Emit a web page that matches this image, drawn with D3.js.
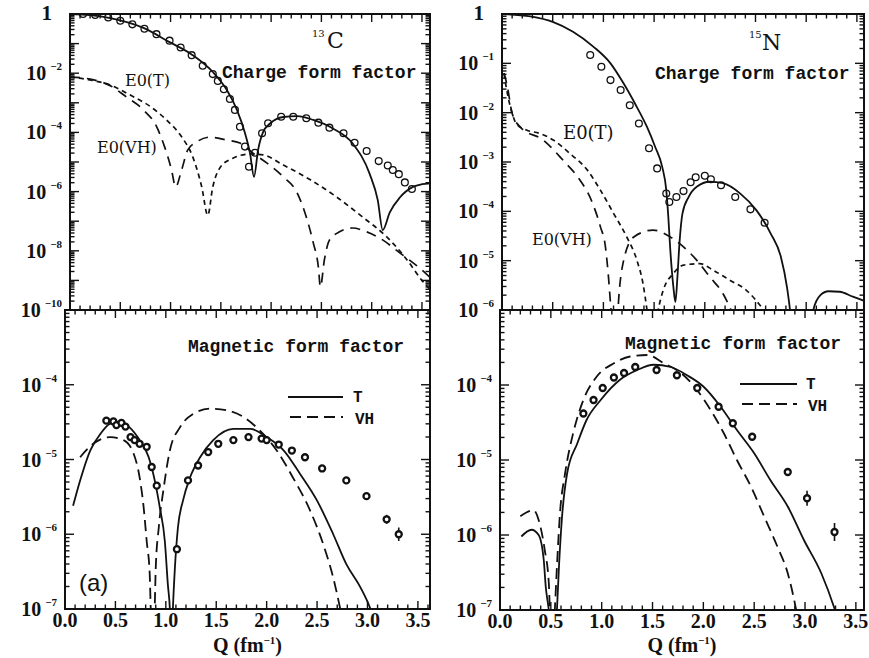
<!DOCTYPE html>
<html><head><meta charset="utf-8">
<script src="https://cdn.jsdelivr.net/npm/d3@7/dist/d3.min.js"></script>
<style>body{margin:0;background:#fff} svg{display:block}</style>
</head><body><svg id="c" width="869" height="658"></svg>
<script>
// ---------- DATA (Q in fm^-1, value given as log10 of form factor) ----------
const xTickLabels = ["0.0","0.5","1.0","1.5","2.0","2.5","3.0","3.5"];
const tlYExponents = [0,-2,-4,-6,-8,-10];
const trYExponents = [0,-1,-2,-3,-4,-5,-6];
const bottomYExponents = [-4,-5,-6,-7];

// 13C charge form factor
const c13ChargeT = [[0,0],[0.2,-0.04],[0.4,-0.14],[0.73,-0.47],[0.99,-0.95],[1.22,-1.39],[1.42,-1.96],[1.56,-2.57],[1.66,-3.24],[1.74,-4.02],[1.79,-4.7],[1.83,-5.5],[1.87,-4.6],[1.92,-3.99],[1.99,-3.7],[2.12,-3.48],[2.26,-3.45],[2.42,-3.58],[2.61,-3.86],[2.81,-4.37],[2.98,-5.4],[3.06,-6.28],[3.11,-7.3],[3.18,-6.7],[3.28,-6.2],[3.41,-5.84],[3.5,-5.75],[3.58,-5.72]];
const c13ChargeE0T = [[0,-2.13],[0.2,-2.23],[0.4,-2.4],[0.6,-2.74],[0.8,-3.13],[0.96,-3.58],[1.11,-4.15],[1.22,-4.82],[1.31,-5.84],[1.37,-6.8],[1.42,-5.84],[1.49,-5.2],[1.62,-4.87],[1.79,-4.73],[1.92,-4.76],[2.12,-5.1],[2.39,-5.6],[2.65,-6.18],[2.91,-6.86],[3.15,-7.53],[3.35,-8.3],[3.5,-9.0],[3.58,-9.3]];
const c13ChargeE0VH = [[0,-2.13],[0.2,-2.2],[0.4,-2.42],[0.56,-2.8],[0.73,-3.24],[0.86,-3.8],[0.94,-4.48],[1.01,-5.27],[1.05,-5.84],[1.11,-5.27],[1.17,-4.6],[1.26,-4.32],[1.39,-4.16],[1.56,-4.26],[1.69,-4.36],[1.82,-4.7],[1.96,-5.04],[2.12,-5.5],[2.26,-6.05],[2.35,-6.86],[2.42,-7.74],[2.47,-8.55],[2.49,-9.22],[2.53,-8.3],[2.58,-7.64],[2.68,-7.36],[2.81,-7.23],[2.95,-7.36],[3.08,-7.57],[3.28,-8.07],[3.5,-8.65],[3.58,-8.9]];
const c13ChargeData = [[0.13,0],[0.25,-0.03],[0.38,-0.12],[0.5,-0.23],[0.62,-0.35],[0.74,-0.5],[0.86,-0.68],[0.99,-0.9],[1.1,-1.13],[1.21,-1.39],[1.32,-1.75],[1.42,-2.03],[1.47,-2.26],[1.53,-2.54],[1.59,-2.87],[1.64,-3.24],[1.69,-3.81],[1.74,-4.48],[1.78,-5.16],[1.84,-4.69],[1.91,-4.03],[1.97,-3.69],[2.1,-3.47],[2.22,-3.47],[2.35,-3.52],[2.47,-3.67],[2.58,-3.84],[2.72,-4.03],[2.83,-4.35],[2.95,-4.63],[3.07,-4.97],[3.16,-5.12],[3.21,-5.27],[3.27,-5.41],[3.33,-5.69],[3.4,-5.91]];

// 15N charge form factor
const n15ChargeT = [[0,0],[0.28,-0.05],[0.5,-0.16],[0.7,-0.36],[0.9,-0.66],[1.07,-1.0],[1.2,-1.41],[1.31,-1.81],[1.43,-2.29],[1.51,-2.69],[1.58,-3.1],[1.62,-3.57],[1.64,-4.11],[1.66,-4.79],[1.69,-5.53],[1.71,-5.84],[1.73,-5.33],[1.75,-4.65],[1.78,-4.04],[1.84,-3.71],[1.92,-3.5],[2.05,-3.4],[2.18,-3.43],[2.35,-3.64],[2.51,-3.98],[2.65,-4.45],[2.75,-4.92],[2.81,-5.53],[2.84,-6.0],[2.88,-7.0],[2.96,-7.6],[3.03,-7.0],[3.07,-6.0],[3.14,-5.7],[3.22,-5.62],[3.33,-5.63],[3.46,-5.73],[3.58,-5.82]];
const n15ChargeE0T = [[0.02,-1.2],[0.03,-1.34],[0.06,-1.68],[0.1,-2.01],[0.14,-2.22],[0.24,-2.35],[0.37,-2.42],[0.51,-2.56],[0.67,-2.83],[0.84,-3.16],[0.97,-3.57],[1.1,-4.04],[1.23,-4.52],[1.33,-4.99],[1.39,-5.46],[1.43,-6.0],[1.48,-6.8],[1.54,-6.0],[1.59,-5.6],[1.69,-5.26],[1.79,-5.09],[1.95,-5.06],[2.08,-5.19],[2.25,-5.4],[2.41,-5.6],[2.58,-6.0],[2.65,-6.2]];
const n15ChargeE0VH = [[0.02,-1.2],[0.05,-1.44],[0.1,-2.01],[0.18,-2.29],[0.41,-2.56],[0.6,-2.96],[0.77,-3.37],[0.88,-3.77],[0.97,-4.31],[1.02,-4.72],[1.05,-5.33],[1.07,-5.87],[1.1,-6.6],[1.13,-6.5],[1.15,-5.8],[1.2,-4.99],[1.3,-4.52],[1.49,-4.38],[1.66,-4.52],[1.79,-4.72],[1.92,-4.99],[2.05,-5.33],[2.18,-5.67],[2.23,-5.87],[2.3,-6.2]];
const n15ChargeData = [[0.87,-0.83],[0.98,-1.07],[1.07,-1.34],[1.17,-1.54],[1.26,-1.85],[1.35,-2.22],[1.45,-2.72],[1.53,-3.13],[1.62,-3.64],[1.65,-3.81],[1.72,-3.71],[1.79,-3.59],[1.86,-3.41],[1.91,-3.31],[2.0,-3.28],[2.06,-3.35],[2.16,-3.47],[2.3,-3.71],[2.45,-3.96],[2.59,-4.23]];

// 13C magnetic form factor
const c13MagT = [[0.08,-5.62],[0.15,-5.28],[0.25,-4.88],[0.35,-4.66],[0.45,-4.52],[0.55,-4.5],[0.64,-4.57],[0.74,-4.74],[0.83,-4.97],[0.89,-5.28],[0.94,-5.64],[0.99,-6.09],[1.02,-6.67],[1.04,-7.0],[1.055,-7.6],[1.07,-7.0],[1.09,-6.45],[1.12,-5.91],[1.17,-5.55],[1.24,-5.24],[1.34,-4.97],[1.47,-4.74],[1.67,-4.59],[1.84,-4.59],[2.0,-4.7],[2.17,-4.88],[2.33,-5.19],[2.5,-5.55],[2.66,-6.0],[2.79,-6.4],[2.93,-6.71],[3.03,-7.0],[3.08,-7.2]];
const c13MagVH = [[0.15,-4.97],[0.28,-4.79],[0.45,-4.7],[0.58,-4.74],[0.68,-4.92],[0.74,-5.24],[0.78,-5.64],[0.81,-6.09],[0.84,-6.53],[0.85,-6.98],[0.87,-7.5],[0.89,-6.98],[0.9,-6.45],[0.93,-5.91],[0.98,-5.37],[1.04,-4.88],[1.14,-4.57],[1.27,-4.39],[1.44,-4.32],[1.6,-4.34],[1.77,-4.43],[1.93,-4.61],[2.1,-4.88],[2.26,-5.24],[2.43,-5.68],[2.56,-6.13],[2.66,-6.58],[2.73,-7.0],[2.76,-7.2]];
const c13MagData = [[0.41,-4.48,0],[0.48,-4.49,0],[0.51,-4.54,0],[0.56,-4.51,0],[0.6,-4.56,0],[0.65,-4.7,0],[0.69,-4.74,0],[0.74,-4.79,0],[0.81,-4.83,0],[0.86,-5.1,0.05],[0.91,-5.35,0.05],[1.11,-6.2,0.05],[1.22,-5.28,0],[1.32,-5.08,0],[1.42,-4.9,0],[1.52,-4.79,0],[1.67,-4.74,0],[1.82,-4.7,0],[1.95,-4.72,0],[2.0,-4.74,0],[2.12,-4.8,0],[2.25,-4.88,0],[2.38,-4.97,0],[2.55,-5.12,0],[2.79,-5.28,0],[2.99,-5.49,0],[3.19,-5.8,0.06],[3.31,-6.0,0.09]];

// 15N magnetic form factor
const n15MagT = [[0.21,-6.02],[0.31,-5.93],[0.38,-6.0],[0.43,-6.33],[0.45,-6.69],[0.48,-7.0],[0.52,-7.6],[0.56,-7.0],[0.58,-6.42],[0.61,-5.76],[0.66,-5.18],[0.76,-4.78],[0.85,-4.47],[0.99,-4.2],[1.18,-3.93],[1.35,-3.8],[1.51,-3.73],[1.68,-3.76],[1.84,-3.87],[2.0,-4.02],[2.17,-4.29],[2.33,-4.6],[2.5,-4.91],[2.66,-5.27],[2.83,-5.62],[2.99,-6.07],[3.16,-6.51],[3.29,-6.98],[3.33,-7.15]];
const n15MagVH = [[0.2,-5.75],[0.33,-5.67],[0.38,-5.8],[0.44,-6.2],[0.48,-6.64],[0.49,-6.98],[0.515,-7.6],[0.54,-6.98],[0.56,-6.42],[0.59,-5.71],[0.64,-5.18],[0.72,-4.64],[0.82,-4.2],[0.95,-3.89],[1.12,-3.71],[1.28,-3.62],[1.45,-3.6],[1.61,-3.71],[1.78,-3.84],[1.94,-4.07],[2.07,-4.33],[2.2,-4.64],[2.33,-5.0],[2.47,-5.36],[2.6,-5.76],[2.73,-6.16],[2.83,-6.51],[2.91,-6.98],[2.94,-7.2]];
const n15MagData = [[0.82,-4.38,0],[0.92,-4.2,0],[1.01,-4.04,0],[1.12,-3.9,0],[1.22,-3.84,0],[1.33,-3.76,0],[1.54,-3.8,0],[1.74,-3.87,0],[1.94,-4.04,0],[2.15,-4.29,0],[2.29,-4.51,0],[2.48,-4.69,0],[2.83,-5.16,0.05],[3.02,-5.51,0.1],[3.29,-5.96,0.12]];

// ---------- LAYOUT ----------
const svg = d3.select('#c');
const ink = '#111';
const panels = [
  {id:'tl', x0:70, x1:430, xd:[0,3.58], y0:14, y1:310, yd:[1,1e-10], labs:tlYExponents, xlabels:false},
  {id:'tr', x0:502, x1:864, xd:[0,3.57], y0:14, y1:310, yd:[1,1e-6], labs:trYExponents, xlabels:false},
  {id:'bl', x0:65, x1:430, xd:[0,3.62], y0:310, y1:609, yd:[1e-3,1e-7], labs:bottomYExponents, xlabels:true},
  {id:'br', x0:500, x1:864, xd:[0,3.58], y0:310, y1:610, yd:[1e-3,1e-7], labs:bottomYExponents, xlabels:true}
];
const P = {};
panels.forEach(p => {
  p.x = d3.scaleLinear().domain(p.xd).range([p.x0, p.x1]);
  p.y = d3.scaleLog().domain(p.yd).range([p.y0, p.y1]);
  P[p.id] = p;
  const g = svg.append('g');
  p.g = g;
  svg.append('clipPath').attr('id','clip-'+p.id).append('rect')
    .attr('x',p.x0).attr('y',p.y0).attr('width',p.x1-p.x0).attr('height',p.y1-p.y0);
  // frame
  g.append('rect').attr('x',p.x0).attr('y',p.y0).attr('width',p.x1-p.x0).attr('height',p.y1-p.y0)
    .attr('fill','none').attr('stroke',ink).attr('stroke-width',2);
  // x ticks
  const xt = d3.range(0, p.xd[1]+1e-9, 0.1);
  xt.forEach(q => {
    const major = Math.abs(q*2 - Math.round(q*2)) < 1e-6;
    const L = major ? 8 : 4.5;
    const xx = p.x(q);
    g.append('line').attr('x1',xx).attr('x2',xx).attr('y1',p.y1).attr('y2',p.y1-L).attr('stroke',ink).attr('stroke-width',1.4);
    g.append('line').attr('x1',xx).attr('x2',xx).attr('y1',p.y0).attr('y2',p.y0+L).attr('stroke',ink).attr('stroke-width',1.4);
  });
  // y ticks (log)
  const eHi = Math.round(Math.log10(p.yd[0])), eLo = Math.round(Math.log10(p.yd[1]));
  for (let e = eLo; e <= eHi; e++) {
    for (let m = 1; m <= 9; m++) {
      const v = m * Math.pow(10, e);
      if (v > p.yd[0]*1.0001 || v < p.yd[1]*0.9999) continue;
      const L = m === 1 ? 9 : 4.5;
      const yy = p.y(v);
      g.append('line').attr('x1',p.x0).attr('x2',p.x0+L).attr('y1',yy).attr('y2',yy).attr('stroke',ink).attr('stroke-width',1.4);
      g.append('line').attr('x1',p.x1).attr('x2',p.x1-L).attr('y1',yy).attr('y2',yy).attr('stroke',ink).attr('stroke-width',1.4);
    }
  }
  // y labels
  p.labs.forEach(e => {
    const yy = p.y(Math.pow(10, e));
    if (e === 0) {
      g.append('text').attr('x',p.x0-18).attr('y',yy+6).attr('text-anchor','end')
        .attr('font-family','Liberation Serif').attr('font-weight','bold').attr('font-size',21).attr('fill',ink).text('1');
    } else {
      const t = g.append('text').attr('x',p.x0-8).attr('y',yy+7).attr('text-anchor','end')
        .attr('font-family','Liberation Serif').attr('font-weight','bold').attr('font-size',20).attr('fill',ink);
      t.append('tspan').text('10');
      t.append('tspan').attr('dx',4).attr('dy',-10).attr('font-size',11).text('\u2212' + (-e));
    }
  });
  // x labels
  if (p.xlabels) {
    xTickLabels.forEach(s => {
      g.append('text').attr('x',p.x(+s)).attr('y',p.y1+18).attr('text-anchor','middle')
        .attr('font-family','Liberation Serif').attr('font-weight','bold').attr('font-size',20).attr('fill',ink).text(s);
    });
    const t = g.append('text').attr('x',(p.x0+p.x1)/2 + 0).attr('y',652).attr('text-anchor','middle')
      .attr('font-family','Liberation Serif').attr('font-weight','bold').attr('font-size',20).attr('fill',ink);
    t.append('tspan').text('Q  (fm');
    t.append('tspan').attr('dy',-8).attr('font-size',11).text('\u22121');
    t.append('tspan').attr('dy',8).text(')');
  }
});

function curve(p, data, dash, w) {
  const line = d3.line().x(d => p.x(d[0])).y(d => p.y(Math.pow(10, d[1]))).curve(d3.curveMonotoneX);
  p.g.append('path').datum(data).attr('d', line).attr('fill','none').attr('stroke',ink)
    .attr('stroke-width', w).attr('stroke-dasharray', dash).attr('clip-path','url(#clip-'+p.id+')');
}
function points(p, data, r, sw, fill) {
  const g = p.g.append('g').attr('clip-path','url(#clip-'+p.id+')');
  data.forEach(d => {
    if (d[2]) {
      g.append('line').attr('x1',p.x(d[0])).attr('x2',p.x(d[0]))
        .attr('y1',p.y(Math.pow(10,d[1]-d[2]))).attr('y2',p.y(Math.pow(10,d[1]+d[2])))
        .attr('stroke',ink).attr('stroke-width',1.6);
    }
    g.append('circle').attr('cx',p.x(d[0])).attr('cy',p.y(Math.pow(10,d[1]))).attr('r',r)
      .attr('fill',fill).attr('stroke',ink).attr('stroke-width',sw);
  });
}

// Top-left 13C charge
curve(P.tl, c13ChargeE0T, '5,4', 1.7);
curve(P.tl, c13ChargeE0VH, '10,7', 1.7);
curve(P.tl, c13ChargeT, null, 1.8);
points(P.tl, c13ChargeData, 3.4, 1.3, 'none');
// Top-right 15N charge
curve(P.tr, n15ChargeE0T, '5,4', 1.7);
curve(P.tr, n15ChargeE0VH, '10,7', 1.7);
curve(P.tr, n15ChargeT, null, 1.8);
points(P.tr, n15ChargeData, 3.4, 1.3, 'none');
// Bottom-left 13C magnetic
curve(P.bl, c13MagVH, '11,6', 1.8);
curve(P.bl, c13MagT, null, 1.8);
points(P.bl, c13MagData, 3.0, 2.3, '#fff');
// Bottom-right 15N magnetic
curve(P.br, n15MagVH, '11,6', 1.8);
curve(P.br, n15MagT, null, 1.8);
points(P.br, n15MagData, 3.0, 2.3, '#fff');

// ---------- TEXT ANNOTATIONS ----------
function txt(x, y, s, fam, size, weight, anchor) {
  return svg.append('text').attr('x',x).attr('y',y).attr('font-family',fam).attr('font-size',size)
    .attr('font-weight',weight||'normal').attr('text-anchor',anchor||'start').attr('fill',ink).text(s);
}
const mono = 'Liberation Mono';
const serif = 'DejaVu Serif';
txt(222, 78, 'Charge form factor', mono, 18, 'bold');
txt(655, 79, 'Charge form factor', mono, 18, 'bold');
txt(188, 352, 'Magnetic form factor', mono, 18, 'bold');
txt(625, 349, 'Magnetic form factor', mono, 18, 'bold');
txt(312, 37, '13', serif, 10, 'normal');
txt(327, 48, 'C', serif, 22, 'normal');
txt(749, 38, '15', serif, 10, 'normal');
txt(762, 50, 'N', serif, 22, 'normal');
txt(125, 86, 'E0(T)', serif, 16);
txt(97, 153, 'E0(VH)', serif, 16);
txt(563, 139, 'E0(T)', serif, 18);
txt(532, 245, 'E0(VH)', serif, 16);
txt(79, 591, '(a)', 'Liberation Sans', 24);

// legends
function legend(x1, x2, yS, yD, tx) {
  svg.append('line').attr('x1',x1).attr('x2',x2).attr('y1',yS).attr('y2',yS).attr('stroke',ink).attr('stroke-width',1.8);
  svg.append('line').attr('x1',x1+2).attr('x2',x2).attr('y1',yD).attr('y2',yD).attr('stroke',ink).attr('stroke-width',1.8).attr('stroke-dasharray','11,6');
  txt(tx, yS+5, 'T', mono, 16, 'bold');
  txt(tx+2, yD+7, 'VH', mono, 16, 'bold');
}
legend(288, 343, 397, 417, 353);
legend(740, 797, 384, 404, 806);
</script></body></html>
